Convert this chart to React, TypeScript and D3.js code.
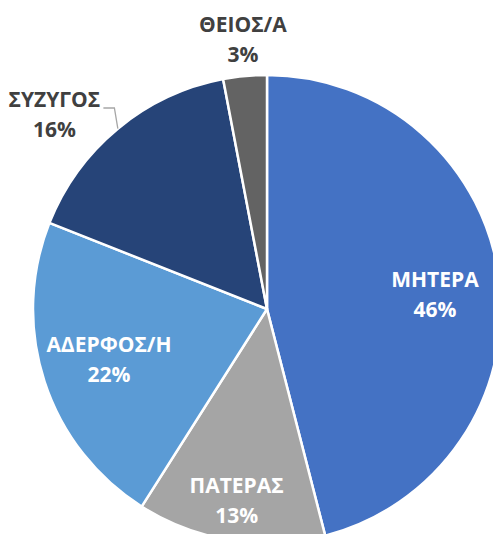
import * as d3 from "d3"

const categories = ["ΜΗΤΕΡΑ", "ΠΑΤΕΡΑΣ", "ΑΔΕΡΦΟΣ/Η", "ΣΥΖΥΓΟΣ", "ΘΕΙΟΣ/Α"]
const values = [46, 13, 22, 16, 3]
const colors = ["#4472C4", "#A5A5A5", "#5B9BD5", "#264478", "#636363"]

// label placement, as a fraction of the radius, and whether the label sits outside
const labelRadius = [0.72, 0.83, 0.71, 1.23, 1.155]
const labelAngleShift = [0.045, 0, 0, -0.14, 0.005]
const outside = [false, false, false, true, true]

const width = 493
const height = 534
const cx = 267
const cy = 309
const radius = 234

export default function App() {
  const data = categories.map((name, i) => ({ name, value: values[i], i }))
  const total = d3.sum(values)

  const pie = d3
    .pie<{ name: string; value: number; i: number }>()
    .value((d) => d.value)
    .sort(null)

  const arc = d3
    .arc<d3.PieArcDatum<{ name: string; value: number; i: number }>>()
    .innerRadius(0)
    .outerRadius(radius)

  const arcs = pie(data)

  const fontSize = 21
  const lineGap = 30

  return (
    <svg
      width={width}
      height={height}
      style={{ position: "fixed", left: 0, top: 0, background: "#fff" }}
      fontFamily="'Open Sans', sans-serif"
      fontWeight="bold"
      fontSize={fontSize}
    >
      <g transform={`translate(${cx},${cy})`}>
        {arcs.map((d) => (
          <path
            key={d.data.name}
            d={arc(d) ?? ""}
            fill={colors[d.data.i]}
            stroke="#fff"
            strokeWidth={2.5}
            strokeLinejoin="round"
          />
        ))}
        {arcs.map((d) => {
          const i = d.data.i
          const mid = (d.startAngle + d.endAngle) / 2 + labelAngleShift[i]
          const r = radius * labelRadius[i]
          const x = r * Math.sin(mid)
          const y = -r * Math.cos(mid)
          const pct = `${Math.round((d.data.value / total) * 100)}%`
          const fill = outside[i] ? "#404040" : "#fff"
          // leader line for the ΣΥΖΥΓΟΣ label
          let leader = null
          if (d.data.name === "ΣΥΖΥΓΟΣ") {
            const m = (d.startAngle + d.endAngle) / 2
            const ax = radius * Math.sin(m)
            const ay = -radius * Math.cos(m)
            const lx = x + 49
            const ly = y - 7
            leader = (
              <polyline
                points={`${ax},${ay} ${lx + 11},${ly} ${lx},${ly}`}
                fill="none"
                stroke="#A6A6A6"
                strokeWidth={1.3}
              />
            )
          }
          return (
            <g key={`l-${d.data.name}`}>
              {leader}
              <text
                x={x}
                y={y - lineGap / 2 + 7}
                textAnchor="middle"
                fill={fill}
              >
                {d.data.name}
              </text>
              <text
                x={x}
                y={y + lineGap / 2 + 7}
                textAnchor="middle"
                fill={fill}
              >
                {pct}
              </text>
            </g>
          )
        })}
      </g>
    </svg>
  )
}
